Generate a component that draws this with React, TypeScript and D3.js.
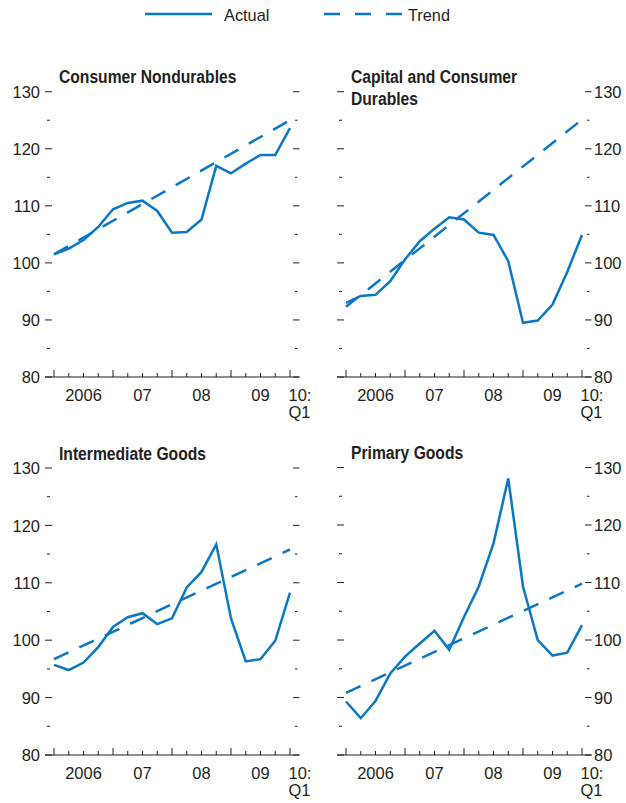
import * as d3 from 'd3';

const quarters = [
  '2006Q1', '2006Q2', '2006Q3', '2006Q4',
  '2007Q1', '2007Q2', '2007Q3', '2007Q4',
  '2008Q1', '2008Q2', '2008Q3', '2008Q4',
  '2009Q1', '2009Q2', '2009Q3', '2009Q4',
  '2010Q1',
];
const years = [2006, 2007, 2008, 2009];
const yearLabels = ['2006', '07', '08', '09'];
const lastLabel = ['10:', 'Q1'];
const trendQuarters = ['2006Q1', '2010Q1'];

const nondurablesActual = [101.5, 102.5, 104.0, 106.3, 109.4, 110.5, 110.9, 109.1, 105.3, 105.4, 107.6, 117.0, 115.7, 117.4, 118.9, 118.9, 123.6];
const nondurablesTrend = [101.5, 125.0];

const durablesActual = [93.0, 94.2, 94.4, 96.8, 100.6, 103.8, 106.0, 108.0, 107.6, 105.3, 104.9, 100.3, 89.5, 89.9, 92.7, 98.4, 104.9];
const durablesTrend = [92.3, 125.1];

const intermediateActual = [95.7, 94.8, 96.1, 98.8, 102.3, 104.0, 104.7, 102.8, 103.8, 109.2, 111.9, 116.7, 103.8, 96.3, 96.7, 99.9, 108.3];
const intermediateTrend = [96.7, 115.8];

const primaryActual = [89.3, 86.4, 89.4, 94.2, 97.1, 99.4, 101.6, 98.3, 104.0, 109.3, 116.8, 128.1, 109.3, 100.0, 97.3, 97.8, 102.6];
const primaryTrend = [90.8, 109.8];

const BLUE = '#0a78c4';
const INK = '#231f20';
const FONT = "'Liberation Sans', Arial, sans-serif";

type Panel = {
  title: string[];
  actual: number[];
  trend: number[];
  x0: number;
  x1: number;
  yTop: number;
  yBot: number;
  side: 'left' | 'right';
};

const panels: Panel[] = [
  { title: ['Consumer Nondurables'], actual: nondurablesActual, trend: nondurablesTrend, x0: 54, x1: 290, yTop: 91.7, yBot: 377, side: 'left' },
  { title: ['Capital and Consumer', 'Durables'], actual: durablesActual, trend: durablesTrend, x0: 346, x1: 582, yTop: 91.7, yBot: 377, side: 'right' },
  { title: ['Intermediate Goods'], actual: intermediateActual, trend: intermediateTrend, x0: 54, x1: 290, yTop: 468, yBot: 755, side: 'left' },
  { title: ['Primary Goods'], actual: primaryActual, trend: primaryTrend, x0: 346, x1: 582, yTop: 467.5, yBot: 755, side: 'right' },
];

// condensed-looking text: squeeze horizontally around the anchor point
function T({ x, y, s = 1, size = 17, anchor = 'start', bold = false, dy, children }: {
  x: number; y: number; s?: number; size?: number; anchor?: 'start' | 'middle' | 'end'; bold?: boolean; dy?: string; children: React.ReactNode;
}) {
  return (
    <text
      transform={`translate(${x},${y}) scale(${s},1)`}
      textAnchor={anchor}
      fontSize={size}
      fontWeight={bold ? 'bold' : 'normal'}
      dy={dy}
      fill={INK}
    >
      {children}
    </text>
  );
}

function ChartPanel({ p }: { p: Panel }) {
  const x = d3.scalePoint<string>().domain(quarters).range([p.x0, p.x1]);
  const y = d3.scaleLinear().domain([80, 130]).range([p.yBot, p.yTop]);
  const yTicks = y.ticks(10);

  const line = d3.line<number>()
    .x((_, i) => x(quarters[i]) as number)
    .y(v => y(v));
  const trendLine = d3.line<number>()
    .x((_, i) => x(trendQuarters[i]) as number)
    .y(v => y(v));

  const axisL = p.x0 - 9;
  const axisR = p.x1 + 9.5;

  return (
    <g>
      {/* y ticks on both sides */}
      {yTicks.map(t => {
        const major = t % 10 === 0;
        const yy = y(t);
        return (
          <g key={t}>
            <line x1={major ? p.x0 - 9 : p.x0 - 7} x2={major ? p.x0 - 2 : p.x0 - 4} y1={yy} y2={yy} stroke={INK} strokeWidth={1} />
            <line x1={major ? p.x1 + 3 : p.x1 + 5} x2={major ? p.x1 + 9.5 : p.x1 + 7.5} y1={yy} y2={yy} stroke={INK} strokeWidth={1} />
            {major && (
              <T x={p.side === 'left' ? p.x0 - 14 : p.x1 + 12} y={yy} dy="0.36em" anchor={p.side === 'left' ? 'end' : 'start'} s={0.97}>
                {t}
              </T>
            )}
          </g>
        );
      })}

      {/* x axis */}
      <line x1={axisL} x2={axisR} y1={p.yBot} y2={p.yBot} stroke={INK} strokeWidth={1} />
      {quarters.map(q => {
        const major = q.endsWith('Q1');
        const xx = x(q) as number;
        return <line key={q} x1={xx} x2={xx} y1={p.yBot} y2={p.yBot - (major ? 7 : 4)} stroke={INK} strokeWidth={1} />;
      })}
      {years.map((yr, i) => {
        const xa = x(`${yr}Q1`) as number;
        const xb = x(`${yr + 1}Q1`) as number;
        return (
          <T key={yr} x={(xa + xb) / 2} y={p.yBot + 24} anchor="middle" s={0.97}>
            {yearLabels[i]}
          </T>
        );
      })}
      {lastLabel.map((s, i) => (
        <T key={s} x={(x('2010Q1') as number) - 1.5} y={p.yBot + 24 + i * 17} s={0.97}>
          {s}
        </T>
      ))}

      {/* series */}
      <path d={trendLine(p.trend) ?? ''} fill="none" stroke={BLUE} strokeWidth={2.5} strokeDasharray="16 12" />
      <path d={line(p.actual) ?? ''} fill="none" stroke={BLUE} strokeWidth={2.5} strokeLinejoin="miter" />

      {/* title */}
      {p.title.map((s, i) => (
        <T key={s} x={p.x0 + 5} y={p.yTop - 8.5 + i * 22} size={18} s={0.87} bold>
          {s}
        </T>
      ))}
    </g>
  );
}

export default function App() {
  return (
    <svg
      width={626}
      height={803}
      viewBox="0 0 626 803"
      style={{ position: 'absolute', left: 0, top: 0, background: '#fff' }}
      fontFamily={FONT}
    >
      <rect width={626} height={803} fill="#fff" />
      {/* legend */}
      <line x1={145} x2={212} y1={14} y2={14} stroke={BLUE} strokeWidth={2.5} />
      <T x={224} y={20.5} size={17} s={0.96}>Actual</T>
      <line x1={324} x2={402} y1={14} y2={14} stroke={BLUE} strokeWidth={2.5} strokeDasharray="16 15" />
      <T x={408} y={20.5} size={17} s={0.96}>Trend</T>

      {panels.map((p, i) => <ChartPanel key={i} p={p} />)}
    </svg>
  );
}
